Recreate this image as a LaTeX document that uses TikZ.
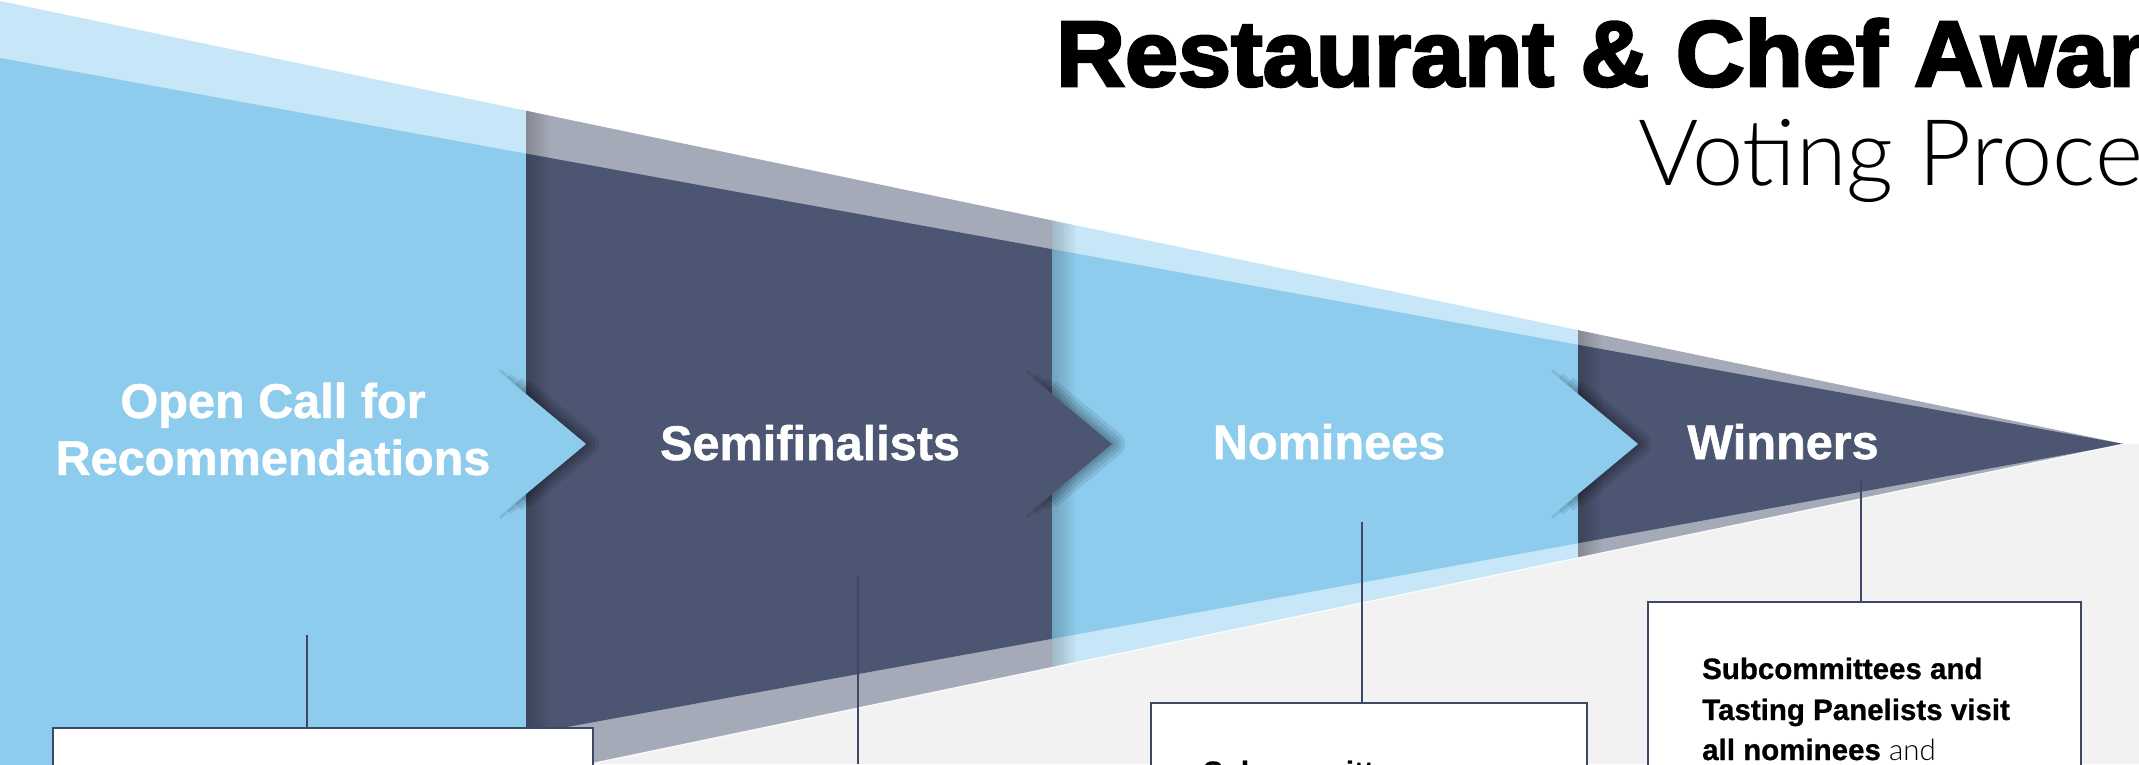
\documentclass[tikz,border=0pt]{standalone}
\usepackage{fontspec}
\setmainfont{Liberation Sans}
\newfontfamily\labf{Liberation Sans Bold}[FakeBold=1.1]
\newfontfamily\titf{Liberation Sans Bold}[FakeBold=3,FakeStretch=1.025]
\newfontfamily\boxf{Liberation Sans Bold}[FakeBold=0.8]
\IfFontExistsTF{Lato Light}{\newfontfamily\thinf{Lato Light}}{\newfontfamily\thinf{Liberation Sans}}
\definecolor{skyb}{HTML}{8ECCED}
\definecolor{skyband}{HTML}{C7E6F7}
\definecolor{navy}{HTML}{4C5672}
\definecolor{navyband}{HTML}{A5AAB8}
\definecolor{bggrey}{HTML}{F2F2F2}
\definecolor{linec}{HTML}{3D4766}
\begin{document}
\begin{tikzpicture}[x=1pt,y=-1pt,
  lab/.style={text=white, inner sep=0pt, font=\labf\fontsize{48.6}{57}\selectfont},
  boxst/.style={draw=linec, line width=1.5pt, fill=white, inner sep=0pt, anchor=north west},
  boxtxt/.style={text=black, inner sep=0pt, anchor=base west, font=\boxf\fontsize{29.5}{40.5}\selectfont},
  conn/.style={draw=linec, line width=1.4pt},
  shade layer/.style={black, opacity=0.085, line join=round}]
\useasboundingbox (0,0) rectangle (2139,764);
\clip (0,0) rectangle (2139,764);
\fill[white] (0,0) rectangle (2139,764);
\fill[bggrey] (0,444) rectangle (2139,764);
\coordinate (tip) at (2124,444);
% sections
\begin{scope}\clip (0,0) rectangle (526,900);
  \fill[skyband] (0,1) -- (tip) -- (0,887) -- cycle;
  \fill[skyb] (0,58) -- (tip) -- (0,830) -- cycle;
\end{scope}
\begin{scope}\clip (526,0) rectangle (1052,900);
  \fill[navyband] (0,1) -- (tip) -- (0,887) -- cycle;
  \fill[navy] (0,58) -- (tip) -- (0,830) -- cycle;
\end{scope}
\begin{scope}\clip (1052,0) rectangle (1578,900);
  \fill[skyband] (0,1) -- (tip) -- (0,887) -- cycle;
  \fill[skyb] (0,58) -- (tip) -- (0,830) -- cycle;
\end{scope}
\begin{scope}\clip (1578,0) rectangle (2139,900);
  \fill[navyband] (0,1) -- (tip) -- (0,887) -- cycle;
  \fill[navy] (0,58) -- (tip) -- (0,830) -- cycle;
\end{scope}
% left edge shadows of sections
\begin{scope}\clip (0,1) -- (tip) -- (0,887) -- cycle;
  \foreach \b in {526,1052,1578}{
    \foreach \w in {3,6,...,24}{
      \fill[black,opacity=0.022] (\b,0) rectangle ({\b+\w},900);
    }
  }
\end{scope}
% chevrons (slope 50/60)
\foreach \b/\c in {526/skyb,1052/navy,1578/skyb}{
  \foreach \w/\s in {26/4,19/11,12/19,6/27}{
    \draw[shade layer, line width=\w pt]
      ({\b-\s},{444-50-\s*5/6}) -- ({\b+60},444) -- ({\b-\s},{444+50+\s*5/6});
  }
  \fill[\c] ({\b-30},369) -- ({\b+60},444) -- ({\b-30},519) -- cycle;
}
\draw[white,line width=1.2pt,opacity=0.9] (0,887) -- (tip);
% labels
\node[lab, align=center] (open) at (273,429) {Open Call for\\Recommendations};
\node[lab, anchor=base] (semi) at (810,460) {Semifinalists};
\node[lab, anchor=base] (nom) at (1329,459) {Nominees};
\node[lab, anchor=base] (win) at (1783,459) {Winners};
% boxes
\node[boxst, minimum width=540pt, minimum height=200pt] (box1) at (52,727) {};
\node[boxst, minimum width=436pt, minimum height=200pt] (box3) at (1150,702) {};
\node[boxst, minimum width=433pt, minimum height=300pt] (box4) at (1647,601) {};
% connectors
\coordinate (c1) at (307,635);
\draw[conn] (c1) -- (c1 |- box1.north);
\coordinate (c2a) at (858,576);
\coordinate (c2b) at (858,764);
\draw[conn] (c2a) -- (c2b);
\coordinate (c3) at (1362,522);
\draw[conn] (c3) -- (c3 |- box3.north);
\coordinate (c4) at (1861,481);
\draw[conn] (c4) -- (c4 |- box4.north);
% box texts
\node[boxtxt] (w1) at (1702,679) {Subcommittees and};
\node[boxtxt] (w2) at (1702,720) {Tasting Panelists visit};
\node[boxtxt] (w3) at (1702,760) {all nominees {\thinf and}};
\node[boxtxt] (n1) at (1203,782) {Subcommittees};
% title
\node[anchor=base west, inner sep=0pt, font=\titf\fontsize{93}{100}\selectfont] (title) at (1056,86) {Restaurant \& Chef Awards};
\node[anchor=base west, inner sep=0pt, font=\thinf\fontsize{92}{100}\selectfont] (sub) at (1638,185) {Voting Process};
\end{tikzpicture}
\end{document}
